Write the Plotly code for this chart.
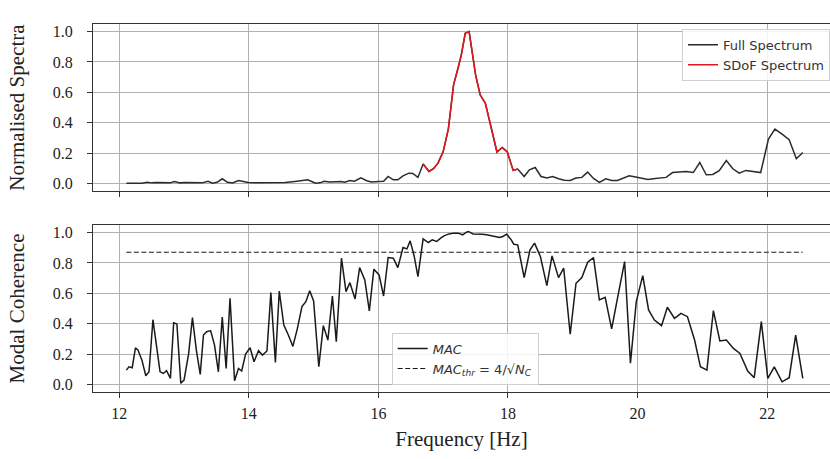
import plotly.graph_objects as go
from plotly.subplots import make_subplots

# normalised spectrum (top panel)
spec_freq = [12.11, 12.25, 12.35, 12.43, 12.50, 12.58, 12.71, 12.79, 12.85, 12.94,
             13.02, 13.12, 13.28, 13.37, 13.44, 13.51, 13.59, 13.67, 13.75, 13.84,
             13.92, 13.99, 14.10, 14.25, 14.40, 14.56, 14.71, 14.82, 14.91, 14.97,
             15.03, 15.10, 15.16, 15.25, 15.33, 15.42, 15.48, 15.56, 15.63, 15.73,
             15.82, 15.89, 16.00, 16.08, 16.15, 16.23, 16.30, 16.38, 16.47, 16.53,
             16.61, 16.69, 16.78, 16.85, 16.92, 17.00, 17.08, 17.16, 17.23, 17.28,
             17.34, 17.40, 17.50, 17.57, 17.65, 17.74, 17.83, 17.91, 17.99, 18.08,
             18.15, 18.25, 18.33, 18.42, 18.51, 18.60, 18.69, 18.78, 18.87, 18.96,
             19.05, 19.14, 19.23, 19.32, 19.41, 19.51, 19.60, 19.69, 19.79, 19.87,
             19.97, 20.06, 20.16, 20.24, 20.34, 20.44, 20.54, 20.64, 20.75, 20.86,
             20.96, 21.06, 21.16, 21.26, 21.37, 21.47, 21.57, 21.67, 21.78, 21.90,
             22.02, 22.12, 22.23, 22.34, 22.45, 22.55]
spec_vals = [0.002, 0.002, 0.002, 0.008, 0.004, 0.006, 0.004, 0.004, 0.013, 0.004,
             0.006, 0.004, 0.004, 0.015, 0.002, 0.008, 0.031, 0.008, 0.004, 0.020,
             0.010, 0.006, 0.004, 0.004, 0.004, 0.006, 0.013, 0.020, 0.024, 0.013,
             0.002, 0.004, 0.015, 0.010, 0.010, 0.013, 0.008, 0.020, 0.015, 0.037,
             0.018, 0.010, 0.013, 0.015, 0.046, 0.024, 0.024, 0.050, 0.068, 0.066,
             0.040, 0.128, 0.079, 0.097, 0.134, 0.210, 0.360, 0.649, 0.759, 0.847,
             0.989, 1.000, 0.715, 0.584, 0.529, 0.364, 0.207, 0.237, 0.207, 0.086,
             0.095, 0.046, 0.090, 0.105, 0.046, 0.036, 0.046, 0.031, 0.022, 0.020,
             0.036, 0.040, 0.075, 0.033, 0.007, 0.031, 0.020, 0.020, 0.036, 0.051,
             0.042, 0.033, 0.026, 0.031, 0.037, 0.040, 0.072, 0.075, 0.079, 0.072,
             0.138, 0.057, 0.059, 0.084, 0.151, 0.097, 0.068, 0.086, 0.077, 0.072,
             0.292, 0.358, 0.325, 0.288, 0.163, 0.204]

# band kept for the SDoF spectrum
sdof_lo = 16.69
sdof_hi = 18.15

# modal coherence (bottom panel)
mac_freq = [12.11, 12.15, 12.20, 12.25, 12.29, 12.35, 12.41, 12.46, 12.52, 12.57,
            12.63, 12.68, 12.73, 12.79, 12.84, 12.89, 12.95, 13.00, 13.07, 13.13,
            13.19, 13.25, 13.30, 13.35, 13.41, 13.47, 13.53, 13.59, 13.65, 13.71,
            13.78, 13.84, 13.89, 13.95, 14.02, 14.08, 14.15, 14.21, 14.28, 14.34,
            14.41, 14.47, 14.54, 14.61, 14.68, 14.75, 14.82, 14.88, 14.94, 15.00,
            15.08, 15.15, 15.22, 15.29, 15.35, 15.43, 15.50, 15.56, 15.64, 15.71,
            15.79, 15.86, 15.93, 16.01, 16.08, 16.15, 16.23, 16.30, 16.38, 16.44,
            16.49, 16.55, 16.61, 16.69, 16.77, 16.83, 16.90, 16.96, 17.02, 17.09,
            17.16, 17.23, 17.30, 17.36, 17.39, 17.46, 17.53, 17.60, 17.67, 17.73,
            17.80, 17.87, 17.92, 17.98, 18.05, 18.09, 18.15, 18.25, 18.34, 18.41,
            18.50, 18.60, 18.68, 18.78, 18.86, 18.96, 19.05, 19.14, 19.23, 19.32,
            19.41, 19.50, 19.60, 19.70, 19.80, 19.89, 19.98, 20.08, 20.17, 20.26,
            20.37, 20.46, 20.57, 20.67, 20.77, 20.88, 20.97, 21.07, 21.17, 21.27,
            21.37, 21.48, 21.58, 21.70, 21.80, 21.91, 22.01, 22.11, 22.23, 22.34,
            22.44, 22.55]
mac_vals = [0.094, 0.116, 0.110, 0.241, 0.226, 0.160, 0.057, 0.083, 0.426, 0.270,
            0.083, 0.072, 0.090, 0.040, 0.406, 0.398, 0.007, 0.028, 0.200, 0.440,
            0.226, 0.066, 0.325, 0.347, 0.354, 0.260, 0.083, 0.444, 0.105, 0.567,
            0.024, 0.105, 0.088, 0.200, 0.241, 0.149, 0.222, 0.193, 0.220, 0.604,
            0.145, 0.615, 0.391, 0.325, 0.250, 0.369, 0.512, 0.545, 0.617, 0.549,
            0.116, 0.387, 0.292, 0.582, 0.281, 0.831, 0.611, 0.670, 0.563, 0.769,
            0.688, 0.484, 0.759, 0.721, 0.582, 0.835, 0.831, 0.769, 0.901, 0.892,
            0.945, 0.850, 0.710, 0.958, 0.934, 0.952, 0.941, 0.963, 0.980, 0.991,
            0.996, 0.996, 0.985, 1.003, 1.007, 0.991, 0.991, 0.989, 0.985, 0.978,
            0.974, 0.967, 0.974, 0.989, 0.952, 0.923, 0.919, 0.703, 0.886, 0.930,
            0.842, 0.650, 0.846, 0.703, 0.765, 0.330, 0.666, 0.703, 0.805, 0.835,
            0.556, 0.574, 0.365, 0.589, 0.809, 0.139, 0.545, 0.716, 0.490, 0.424,
            0.387, 0.508, 0.435, 0.468, 0.446, 0.292, 0.116, 0.094, 0.486, 0.286,
            0.292, 0.237, 0.204, 0.088, 0.044, 0.413, 0.040, 0.116, 0.017, 0.044,
            0.325, 0.040]
mac_thr = 0.87

sdof_freq = [f for f in spec_freq if sdof_lo <= f <= sdof_hi]
sdof_vals = [v for f, v in zip(spec_freq, spec_vals) if sdof_lo <= f <= sdof_hi]

serif = "Liberation Serif"
sans = "DejaVu Sans"
grid = "#b0b0b0"
spine = "#333333"

fig = make_subplots(rows=2, cols=1, shared_xaxes=True)

fig.add_trace(go.Scatter(x=spec_freq, y=spec_vals, mode="lines", name="Full Spectrum",
                         line=dict(color="#2b2b2b", width=1.5), legend="legend"), row=1, col=1)
fig.add_trace(go.Scatter(x=sdof_freq, y=sdof_vals, mode="lines", name="SDoF Spectrum",
                         line=dict(color="#e8141b", width=1.5), legend="legend"), row=1, col=1)
fig.add_trace(go.Scatter(x=mac_freq, y=mac_vals, mode="lines", name="<i>MAC</i>",
                         line=dict(color="#1a1a1a", width=1.5), legend="legend2"), row=2, col=1)
fig.add_trace(go.Scatter(x=[mac_freq[0], mac_freq[-1]], y=[mac_thr, mac_thr], mode="lines",
                         name="<i>MAC<sub>thr</sub></i> = 4/√<i>N<sub>C</sub></i>",
                         line=dict(color="#1a1a1a", width=1.2, dash="5px,2.5px"),
                         legend="legend2"), row=2, col=1)

fig.update_layout(
    width=830, height=459,
    margin=dict(l=93, r=0, t=24, b=67),
    plot_bgcolor="white", paper_bgcolor="white",
    legend=dict(x=1, xanchor="right", y=0.987, yanchor="top",
                bgcolor="rgba(255,255,255,0.85)", bordercolor="#d0d0d0", borderwidth=1,
                font=dict(family=sans, size=13, color="#333")),
    legend2=dict(x=0.505, xanchor="center", y=0.02, yanchor="bottom",
                 bgcolor="rgba(255,255,255,0.85)", bordercolor="#d0d0d0", borderwidth=1,
                 font=dict(family=sans, size=13, color="#333")),
)

axis_style = dict(showgrid=True, gridcolor=grid, gridwidth=1, showline=True,
                  linecolor=spine, linewidth=1.2, mirror=True, ticks="outside",
                  ticklen=5, tickcolor=spine, zeroline=False, automargin=False,
                  tickfont=dict(family=serif, size=16, color="#222"))

fig.update_xaxes(range=[11.595, 22.97], tickvals=[12, 14, 16, 18, 20, 22], **axis_style)
fig.update_xaxes(showticklabels=False, row=1, col=1)
fig.update_xaxes(title=dict(text="Frequency [Hz]", font=dict(family=serif, size=21, color="#222"),
                            standoff=10), ticklabelstandoff=2, row=2, col=1)

fig.update_yaxes(range=[-0.05, 1.05], tickvals=[0, 0.2, 0.4, 0.6, 0.8, 1.0],
                 tickformat=".1f", ticklabelstandoff=11, **axis_style)
fig.update_yaxes(domain=[0.546, 1.0], row=1, col=1,
                 title=dict(text="Normalised Spectra", font=dict(family=serif, size=21, color="#222"),
                            standoff=22))
fig.update_yaxes(domain=[0.0, 0.454], row=2, col=1,
                 title=dict(text="Modal Coherence", font=dict(family=serif, size=21, color="#222"),
                            standoff=22))

# drop the page's default body margin so the figure sits at the window corner
fig.write_html("out.html", config={"displayModeBar": False},
               post_script="document.body.style.margin = '0';")
